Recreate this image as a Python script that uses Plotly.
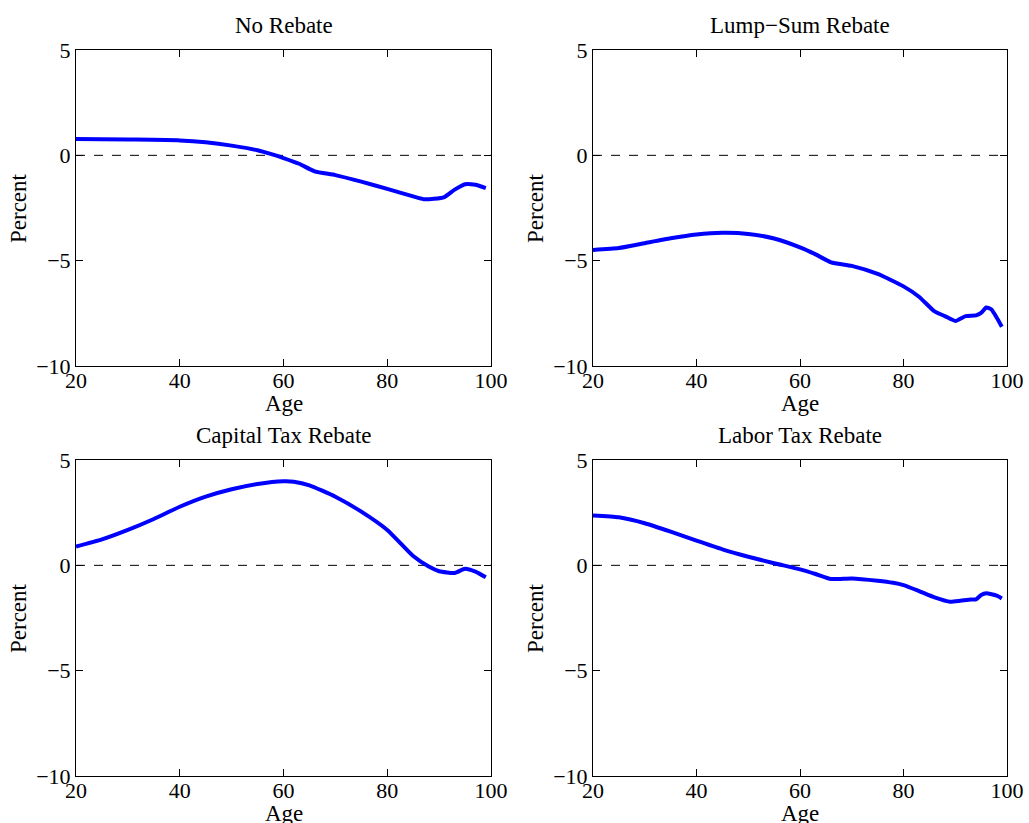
import plotly.graph_objects as go

titles = ["No Rebate", "Lump\u2212Sum Rebate", "Capital Tax Rebate", "Labor Tax Rebate"]

age_no = [20, 30, 40, 45, 50, 55, 58, 60, 63, 66, 70, 75, 80, 85, 87, 89, 91, 93, 95, 97, 99]
val_no = [0.78, 0.75, 0.71, 0.62, 0.46, 0.24, 0.03, -0.13, -0.40, -0.76, -0.94, -1.25, -1.59, -1.95,
          -2.08, -2.06, -1.98, -1.63, -1.37, -1.40, -1.56]

age_lump = [20, 25, 30, 35, 40, 45, 50, 55, 60, 63, 66, 70, 75, 80, 83, 86, 88, 90, 92, 94, 95, 96, 97, 98, 99]
val_lump = [-4.49, -4.40, -4.17, -3.94, -3.76, -3.68, -3.73, -3.95, -4.37, -4.70, -5.08, -5.25, -5.63,
            -6.22, -6.71, -7.41, -7.63, -7.86, -7.63, -7.60, -7.48, -7.22, -7.32, -7.70, -8.14]

age_cap = [20, 25, 30, 35, 40, 45, 50, 55, 60, 62, 65, 70, 75, 80, 85, 88, 90, 93, 95, 97, 99]
val_cap = [0.89, 1.23, 1.68, 2.20, 2.78, 3.26, 3.61, 3.86, 3.99, 3.97, 3.80, 3.26, 2.55, 1.68, 0.44,
           -0.06, -0.28, -0.36, -0.16, -0.30, -0.57]

age_lab = [20, 25, 30, 35, 40, 45, 50, 55, 60, 63, 66, 70, 75, 78, 80, 83, 86, 89, 91, 93, 94, 95, 96, 98, 99]
val_lab = [2.37, 2.28, 2.00, 1.60, 1.17, 0.76, 0.41, 0.10, -0.19, -0.41, -0.65, -0.62, -0.73, -0.83,
           -0.94, -1.22, -1.52, -1.73, -1.68, -1.62, -1.62, -1.41, -1.33, -1.44, -1.57]

x_ticks = [20, 40, 60, 80, 100]
y_ticks = [-10, -5, 0, 5]

series = [(age_no, val_no), (age_lump, val_lump), (age_cap, val_cap), (age_lab, val_lab)]

W, H = 1029, 823
xpix = [(76, 491), (593, 1007)]
ypix = [(50, 366), (460, 776)]
xdoms = [[a / W, b / W] for a, b in xpix]
ydoms = [[1 - b / H, 1 - a / H] for a, b in ypix]

FONT = "Liberation Serif, Times New Roman, serif"

fig = go.Figure()
layout = dict(
    template="none",
    width=W, height=H,
    margin=dict(l=0, r=0, t=0, b=0, pad=0),
    paper_bgcolor="white", plot_bgcolor="white",
    showlegend=False,
    font=dict(family=FONT, color="black", size=22),
    annotations=[], shapes=[],
)

for i, (ages, vals) in enumerate(series):
    row, col = divmod(i, 2)
    n = "" if i == 0 else str(i + 1)
    xa, ya = "x" + n, "y" + n
    fig.add_trace(go.Scatter(x=ages, y=vals, mode="lines",
                             line=dict(color="#0000FF", width=4, shape="spline", smoothing=0.5),
                             xaxis=xa, yaxis=ya, hoverinfo="skip"))
    ax_common = dict(showline=True, linecolor="black", linewidth=1, mirror="ticks",
                     ticks="inside", ticklen=7, tickcolor="black", tickwidth=1, showgrid=False,
                     zeroline=False, automargin=False,
                     tickfont=dict(family=FONT, size=22, color="black"))
    layout["xaxis" + n] = dict(domain=xdoms[col], range=[20, 100], tickvals=x_ticks,
                               anchor=ya, ticklabelstandoff=-5, **ax_common)
    layout["yaxis" + n] = dict(domain=ydoms[row], range=[-10, 5], tickvals=y_ticks,
                               anchor=xa, **ax_common)
    layout["shapes"].append(dict(type="line", xref=xa, yref=ya, x0=20, x1=100, y0=0, y1=0,
                                 line=dict(color="black", width=1, dash="dash"), layer="below"))
    xc = (xdoms[col][0] + xdoms[col][1]) / 2
    top, bot = ypix[row]
    layout["annotations"].append(dict(text=titles[i], x=xc, y=1 - (top - 25) / H,
                                      xref="paper", yref="paper", xanchor="center", yanchor="middle",
                                      showarrow=False, font=dict(family=FONT, size=23)))
    layout["annotations"].append(dict(text="Age", x=xc, y=1 - (bot + 37) / H,
                                      xref="paper", yref="paper", xanchor="center", yanchor="middle",
                                      showarrow=False, font=dict(family=FONT, size=23)))
    layout["annotations"].append(dict(text="Percent", x=(xpix[col][0] - 58) / W,
                                      y=1 - (top + bot) / 2 / H,
                                      xref="paper", yref="paper", xanchor="center", yanchor="middle",
                                      textangle=-90, showarrow=False, font=dict(family=FONT, size=23)))

fig.update_layout(**layout)
fig.write_html("out.html")
